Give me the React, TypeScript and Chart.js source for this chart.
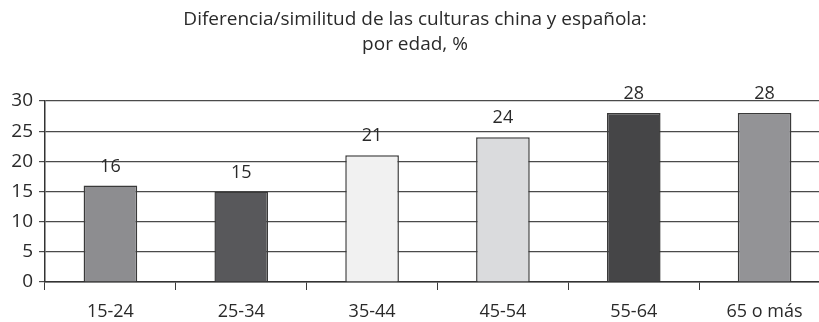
import React, { useEffect, useRef } from "react";
import { Chart, registerables } from "chart.js";

Chart.register(...registerables);

const titleLines = ["Diferencia/similitud de las culturas china y española:", "por edad, %"];
const ageGroups = ["15-24", "25-34", "35-44", "45-54", "55-64", "65 o más"];
const shares = [16, 15, 21, 24, 28, 28];
const barColors = ["#8d8d90", "#58585b", "#f1f1f1", "#dadbdd", "#454547", "#939396"];
const yMin = 0;
const yMax = 30;
const yStep = 5;

const FONT = "'Open Sans', 'Noto Sans', sans-serif";

// Writes each bar's value just above it
const valueLabels = {
  id: "valueLabels",
  afterDatasetsDraw(chart: any) {
    const { ctx } = chart;
    const meta = chart.getDatasetMeta(0);
    ctx.save();
    ctx.font = `18px ${FONT}`;
    ctx.fillStyle = "#2a2a2a";
    ctx.textAlign = "center";
    ctx.textBaseline = "middle";
    meta.data.forEach((bar: any, i: number) => {
      ctx.fillText(String(shares[i]), bar.x, bar.y - 19);
    });
    ctx.restore();
  },
};

export default function App() {
  const canvasRef = useRef<HTMLCanvasElement | null>(null);

  useEffect(() => {
    if (!canvasRef.current) return;
    const chart = new Chart(canvasRef.current, {
      type: "bar",
      data: {
        labels: ageGroups,
        datasets: [
          {
            data: shares,
            backgroundColor: barColors,
            borderColor: "#3a3a3a",
            borderWidth: 1.5,
            categoryPercentage: 1,
            barPercentage: 0.41,
          },
        ],
      },
      options: {
        animation: false,
        responsive: false,
        maintainAspectRatio: false,
        layout: { padding: { top: 0, left: 0, right: 0, bottom: 0 } },
        plugins: {
          legend: { display: false },
          tooltip: { enabled: false },
          title: {
            display: true,
            text: titleLines,
            color: "#2a2a2a",
            font: { family: FONT, size: 19, weight: "normal", lineHeight: 25 / 19 },
            padding: { top: 7, bottom: 44 },
          },
        },
        scales: {
          x: {
            grid: {
              display: true,
              drawOnChartArea: false,
              drawTicks: true,
              tickLength: 8,
              color: "#3a3a3a",
              offset: true,
            },
            border: { display: true, color: "#333", width: 1.5 },
            ticks: {
              color: "#2a2a2a",
              font: { family: FONT, size: 18 },
              padding: 11,
              maxRotation: 0,
            },
            afterFit(scale: any) {
              scale.height = 40;
            },
          },
          y: {
            min: yMin,
            max: yMax,
            grid: {
              color: "#4a4a4a",
              lineWidth: 1.2,
              tickLength: 6,
            },
            border: { display: true, color: "#333", width: 1.5 },
            ticks: {
              stepSize: yStep,
              color: "#2a2a2a",
              font: { family: FONT, size: 19 },
              padding: 6,
            },
            afterFit(scale: any) {
              scale.width = 45;
            },
          },
        },
      },
      plugins: [valueLabels],
    });
    return () => chart.destroy();
  }, []);

  return (
    <div
      style={{
        position: "fixed",
        left: 0,
        top: 0,
        width: 819,
        height: 322,
        overflow: "hidden",
        background: "#fff",
      }}
    >
      <canvas ref={canvasRef} width={830} height={322} style={{ width: 830, height: 322 }} />
    </div>
  );
}
